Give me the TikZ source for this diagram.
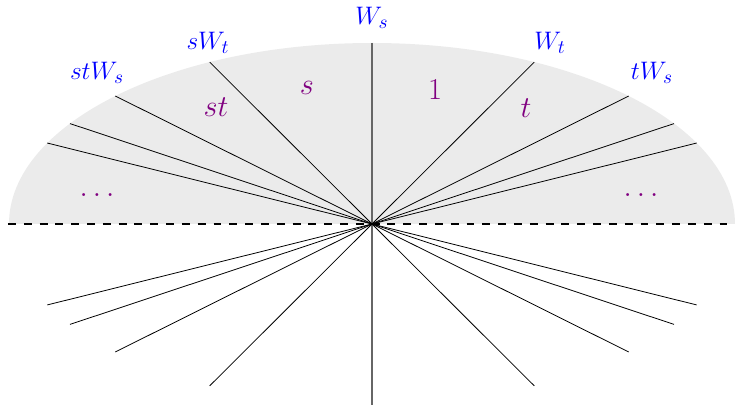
\documentclass[tikz,border=0pt]{standalone}
\usepackage{tikz}
\definecolor{WallBlue}{HTML}{0000FF}
\definecolor{CellPurple}{HTML}{800080}
\definecolor{ConeGray}{HTML}{EBEBEB}

\begin{document}
\begin{tikzpicture}[x=0.02cm, y=0.02cm,
    wall/.style={text=WallBlue, font=\fontsize{15}{17}\selectfont},
    cell/.style={text=CellPurple, font=\fontsize{17}{20}\selectfont}]
      \useasboundingbox (-372,-181) rectangle (363,224);
      % Demi-cone grise
      \fill[ConeGray] (363,0) arc[start angle=0, end angle=180, x radius=363, y radius=181] -- cycle;
      \coordinate (o) at (0,0);
      \coordinate (left) at (-364,0);
      \coordinate (right) at (363,0);
      \draw[dash pattern=on 4.5pt off 4.5pt, line width=0.6pt] (left) -- (right);

      % Murs
      \coordinate (top) at (0,181);
      \coordinate (bot) at (0,-181);
      \draw[black!60, line width=0.6pt] (top) -- (bot);
      \foreach \k in {1,...,4} {
        \pgfmathsetmacro{\ang}{atan(\k/2)}
        \coordinate (ul\k) at ({-363*sin(\ang)},{181*cos(\ang)});
        \coordinate (ur\k) at ({363*sin(\ang)},{181*cos(\ang)});
        \coordinate (dl\k) at ({-363*sin(\ang)},{-181*cos(\ang)});
        \coordinate (dr\k) at ({363*sin(\ang)},{-181*cos(\ang)});
        \draw[line width=0.45pt] (ul\k) -- (dr\k);
        \draw[line width=0.45pt] (ur\k) -- (dl\k);
      }

      % Etiquettes des murs
      \node[wall] (ws) at (0,206) {$W_s$};
      \node[wall] (swt) at (-164,181) {$sW_t$};
      \node[wall] (stws) at (-275,151) {$stW_s$};
      \node[wall] (wt) at (178,181) {$W_t$};
      \node[wall] (tws) at (280,151) {$tW_s$};

      % Etiquettes des chambres
      \node[cell] (cs) at (-65,136) {$s$};
      \node[cell] (cst) at (-156,117) {$st$};
      \node[cell] (c1) at (63,134) {$1$};
      \node[cell] (ct) at (154,116) {$t$};
      \node[cell] (dotsl) at (-275,29) {$\ldots$};
      \node[cell] (dotsr) at (269,29) {$\ldots$};
    \end{tikzpicture}
\end{document}
